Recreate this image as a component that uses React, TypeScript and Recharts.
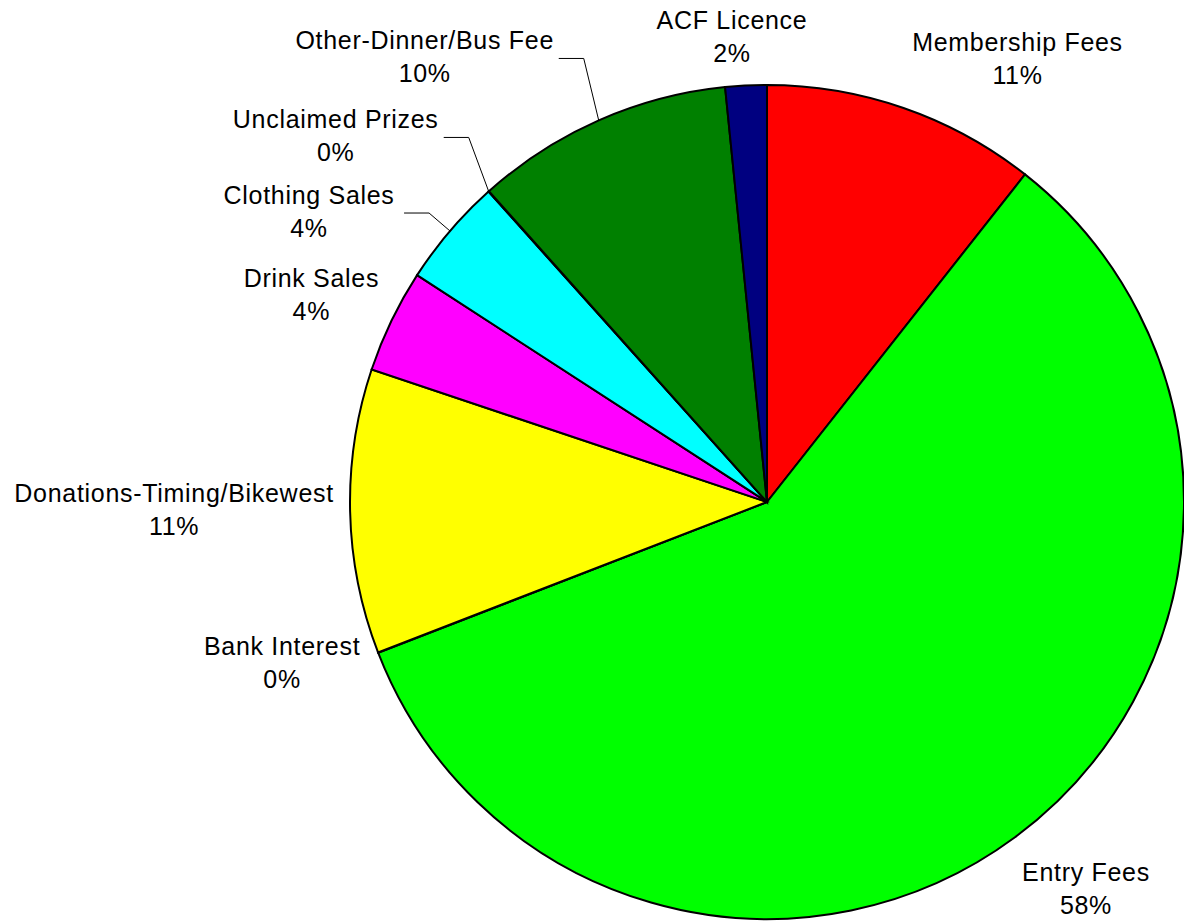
import React from 'react';
import { PieChart, Pie, Cell } from 'recharts';

// Income breakdown, clockwise from 12 o'clock
const categories = [
  'Membership Fees',
  'Entry Fees',
  'Bank Interest',
  'Donations-Timing/Bikewest',
  'Drink Sales',
  'Clothing Sales',
  'Unclaimed Prizes',
  'Other-Dinner/Bus Fee',
  'ACF Licence',
];
const shares = [10.6, 58.4, 0.02, 11.0, 4.0, 4.2, 0.02, 10.0, 1.6];
const colors = [
  '#FF0000',
  '#00FF00',
  '#993366',
  '#FFFF00',
  '#FF00FF',
  '#00FFFF',
  '#800000',
  '#008000',
  '#000080',
];

// label block offset from the slice's outer edge midpoint, and whether a leader line is drawn
const labelOffsets: [number, number][] = [
  [114, -49],
  [71, 52],
  [-96, 10],
  [-176, -1],
  [-80, -26],
  [-141, -19],
  [-153, -55],
  [-174, -63],
  [-14, -49],
];
const hasLeader = [false, false, false, false, false, true, true, true, false];

const data = categories.map((name, i) => ({ name, value: shares[i] }));

const RADIAN = Math.PI / 180;
const FONT = '"Liberation Sans", Arial, sans-serif';
const FONT_SIZE = 25;

const renderLabel = (props: any) => {
  const { cx, cy, midAngle, outerRadius, index, name, percent } = props;
  const ex = cx + outerRadius * Math.cos(-midAngle * RADIAN);
  const ey = cy + outerRadius * Math.sin(-midAngle * RADIAN);
  const [dx, dy] = labelOffsets[index];
  const lx = ex + dx;
  const ly = ey + dy;
  const pct = `${Math.round(percent * 100)}%`;

  let leader = null;
  if (hasLeader[index]) {
    const right = lx + name.length * FONT_SIZE * 0.26;
    const knee = right + 29;
    leader = (
      <polyline
        points={`${right + 4},${ly + 1} ${knee},${ly + 1} ${ex},${ey}`}
        fill="none"
        stroke="#000"
        strokeWidth={1}
      />
    );
  }

  return (
    <g key={`label-${index}`}>
      {leader}
      <text
        x={lx}
        y={ly}
        textAnchor="middle"
        fill="#000"
        fontFamily={FONT}
        fontSize={FONT_SIZE}
        letterSpacing={0.7}
      >
        <tspan x={lx} y={ly - 8}>
          {name}
        </tspan>
        <tspan x={lx} y={ly + 25}>
          {pct}
        </tspan>
      </text>
    </g>
  );
};

export default function App() {
  return (
    <div style={{ position: 'absolute', left: 0, top: 0, width: 1184, height: 922, background: '#fff' }}>
      <PieChart width={1184} height={922} margin={{ top: 0, right: 0, bottom: 0, left: 0 }}>
        <Pie
          data={data}
          dataKey="value"
          nameKey="name"
          cx={767}
          cy={502}
          outerRadius={417}
          startAngle={90}
          endAngle={-270}
          stroke="#000"
          strokeWidth={2}
          label={renderLabel}
          labelLine={false}
          isAnimationActive={false}
        >
          {data.map((_entry, index) => (
            <Cell key={`cell-${index}`} fill={colors[index]} />
          ))}
        </Pie>
      </PieChart>
    </div>
  );
}
